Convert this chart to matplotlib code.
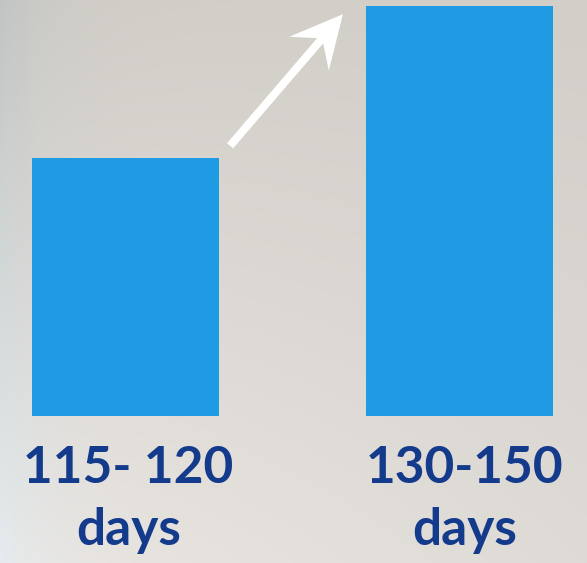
import numpy as np
import matplotlib
matplotlib.use("Agg")
import matplotlib.pyplot as plt
from matplotlib.patches import Polygon

# Growing period of the two varieties (relative bar heights)
categories = ["115- 120\ndays", "130-150\ndays"]
values = [63, 100]

BAR_COLOR = "#1e9be2"
TEXT_COLOR = "#133a8b"

W, H = 587, 563
fig = plt.figure(figsize=(W / 100, H / 100), dpi=100)

# Soft background: warm grey, lighter towards the bottom, bluish at the left edge
ax_bg = fig.add_axes([0, 0, 1, 1], zorder=0)
yy, xx = np.mgrid[0:H, 0:W]
t = yy / (H - 1)
s = xx / (W - 1)
top = np.array([210, 206, 200], float)
bot = np.array([234, 230, 226], float)
base = top[None, None, :] * (1 - t[..., None]) + bot[None, None, :] * t[..., None]
edge_top = np.array([190, 195, 194], float)
edge_bot = np.array([228, 236, 240], float)
edge = edge_top[None, None, :] * (1 - t[..., None]) + edge_bot[None, None, :] * t[..., None]
w_edge = np.exp(-xx / 45.0)[..., None] * 0.9
img = base * (1 - w_edge) + edge * w_edge
img -= (s * t)[..., None] * 12
ax_bg.imshow(np.clip(img, 0, 255).astype(np.uint8), extent=(0, 1, 0, 1),
             aspect="auto", interpolation="bilinear")
ax_bg.set_axis_off()

# Bars
bar_bottom_px = 416
ax = fig.add_axes([0, (H - bar_bottom_px) / H, 1, bar_bottom_px / H], zorder=1)
ax.patch.set_alpha(0)
x = np.arange(len(categories))
ax.bar(x, values, width=0.56, color=BAR_COLOR)
ax.set_xlim(-125.5 / 334, (W - 125.5) / 334)
ax.set_ylim(0, bar_bottom_px / 4.1)
for sp in ax.spines.values():
    sp.set_visible(False)
ax.set_yticks([])
ax.set_xticks(x)
ax.set_xticklabels(categories, fontsize=37, fontweight="bold", color=TEXT_COLOR,
                   family=["Lato", "DejaVu Sans"], linespacing=1.39)
ax.tick_params(axis="x", length=0, pad=21)
for lbl, dx in zip(ax.get_xticklabels(), [3, 5]):
    lbl.set_x(lbl.get_position()[0])
    lbl.set_transform(lbl.get_transform() + matplotlib.transforms.Affine2D().translate(dx, 0))

# White arrow pointing from the shorter bar up to the taller one
fig.canvas.draw()
tail = ax.transData.transform((0.313, 65.9))
tip = ax.transData.transform((0.651, 98.0))
u = (tip - tail) / np.hypot(*(tip - tail))
n = np.array([-u[1], u[0]])
half_shaft, head_len, notch, half_head = 4.0, 52.0, 35.0, 26.0
pts_disp = [
    tail + n * half_shaft,
    tip - u * notch + n * half_shaft,
    tip - u * head_len + n * half_head,
    tip,
    tip - u * head_len - n * half_head,
    tip - u * notch - n * half_shaft,
    tail - n * half_shaft,
]
pts = ax.transData.inverted().transform(np.array(pts_disp))
ax.add_patch(Polygon(pts, closed=True, facecolor="white", edgecolor="none",
                     clip_on=False, zorder=3))

fig.savefig("out.png", dpi=100)
